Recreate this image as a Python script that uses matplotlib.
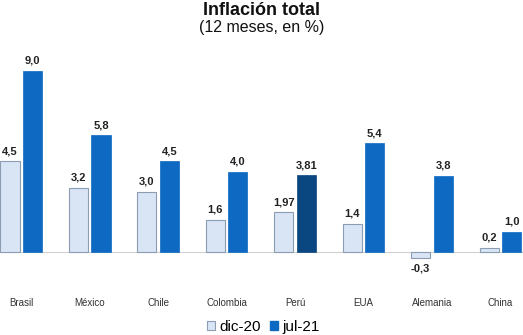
import matplotlib
matplotlib.use("Agg")
import matplotlib.pyplot as plt
from matplotlib.patches import Patch
import numpy as np

plt.rcParams['font.family'] = ['Liberation Sans', 'DejaVu Sans']

categories = ["Brasil", "México", "Chile", "Colombia", "Perú", "EUA", "Alemania", "China"]
dic20 = [4.5, 3.2, 3.0, 1.6, 1.97, 1.4, -0.3, 0.2]
jul21 = [9.0, 5.8, 4.5, 4.0, 3.81, 5.4, 3.8, 1.0]
dic20_labels = ["4,5", "3,2", "3,0", "1,6", "1,97", "1,4", "-0,3", "0,2"]
jul21_labels = ["9,0", "5,8", "4,5", "4,0", "3,81", "5,4", "3,8", "1,0"]
series_names = ["dic-20", "jul-21"]

c_light = "#D9E5F5"
c_edge = "#8C9DB3"
c_blue = "#0D69C2"
c_dark = "#0A467F"

fig = plt.figure(figsize=(5.23, 3.35), dpi=100)
ax = fig.add_axes([0, 0.218, 1, 0.603])

x = np.arange(len(categories))
w = 0.28
off = 0.165
b1 = ax.bar(x - off, dic20, w, color=c_light, edgecolor=c_edge, linewidth=0.8)
colors2 = [c_dark if c == "Perú" else c_blue for c in categories]
b2 = ax.bar(x + off, jul21, w, color=colors2, edgecolor=colors2, linewidth=0.5)

ax.axhline(0, color="#D0D0D0", linewidth=0.8, zorder=0)

for xi, v, lab in zip(x - off, dic20, dic20_labels):
    if v >= 0:
        ax.text(xi, v + 0.25, lab, ha="center", va="bottom", fontsize=8, fontweight="bold", color="#222222", clip_on=False)
    else:
        ax.text(xi, v - 0.3, lab, ha="center", va="top", fontsize=8, fontweight="bold", color="#222222", clip_on=False)
for xi, v, lab in zip(x + off, jul21, jul21_labels):
    ax.text(xi, v + 0.25, lab, ha="center", va="bottom", fontsize=8, fontweight="bold", color="#222222", clip_on=False)

ax.set_xlim(-0.31, 7.33)
ax.set_ylim(-0.5, 9.55)
ax.set_xticks(x)
ax.set_xticklabels(categories, fontsize=7, color="#333333")
ax.tick_params(axis="x", length=0, pad=26)
ax.set_yticks([])
for s in ax.spines.values():
    s.set_visible(False)

fig.text(0.5, 0.995, "Inflación total", ha="center", va="top", fontsize=13, fontweight="bold", color="#111111")
fig.text(0.5, 0.94, "(12 meses, en %)", ha="center", va="top", fontsize=11.5, color="#111111")

handles = [Patch(facecolor=c_light, edgecolor=c_edge, linewidth=0.8), Patch(facecolor=c_blue, edgecolor=c_blue)]
fig.legend(handles, series_names, loc="center", bbox_to_anchor=(0.503, 0.024), ncol=2, frameon=False,
           fontsize=11, handlelength=0.55, handleheight=0.55, handletextpad=0.25, columnspacing=0.6,
           borderpad=0, borderaxespad=0)

fig.savefig("out.png", dpi=100)
